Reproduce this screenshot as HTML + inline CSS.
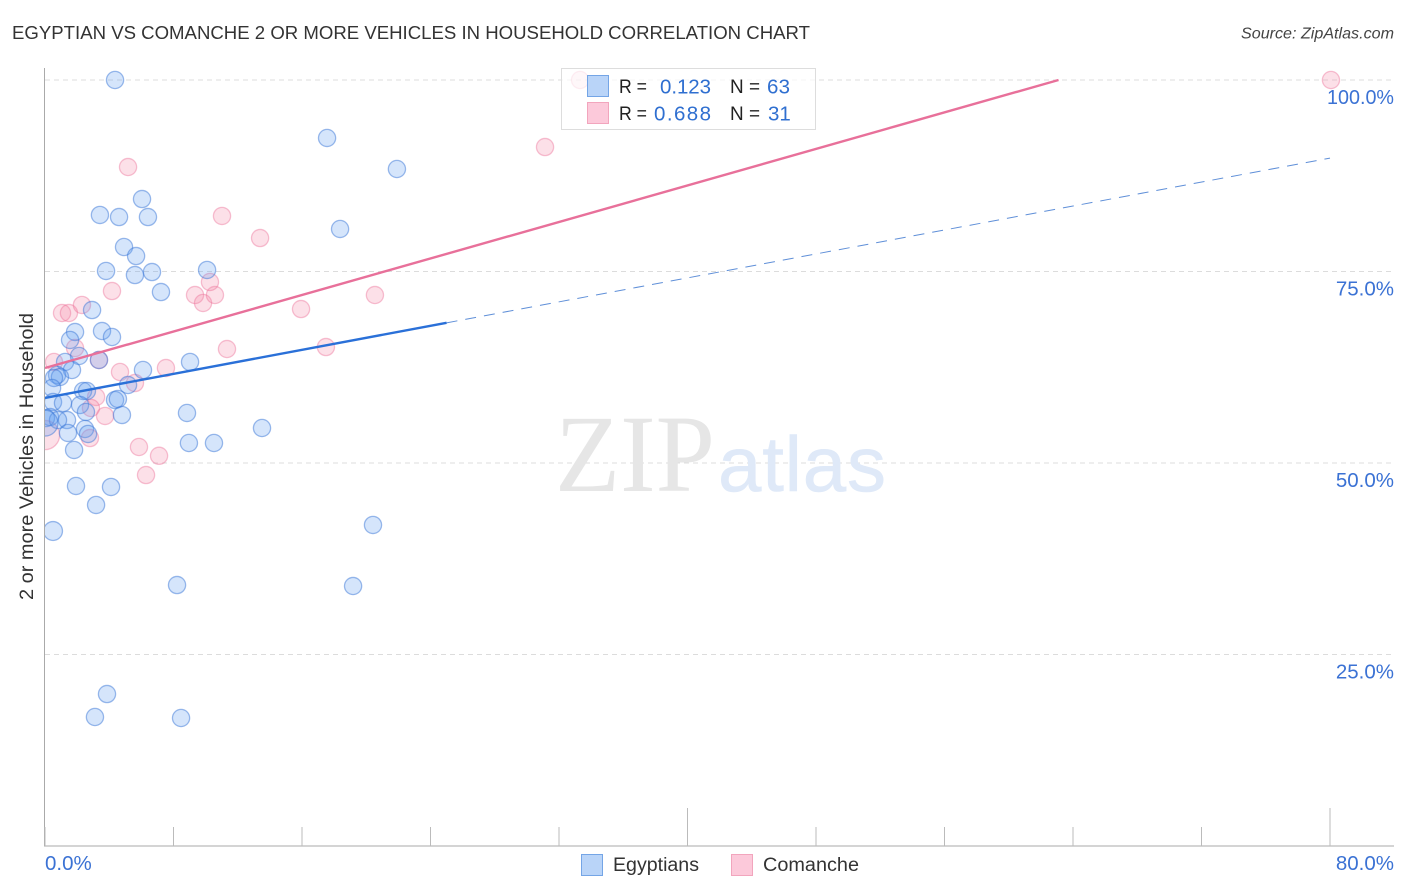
<!DOCTYPE html>
<html lang="en">
<head>
<meta charset="utf-8">
<title>Egyptian vs Comanche 2 or more Vehicles in Household Correlation Chart</title>
<style>
html,body{margin:0;padding:0;background:#fff;width:1406px;height:892px;overflow:hidden}
svg{display:block;font-family:"Liberation Sans",sans-serif}
</style>
</head>
<body>
<svg id="chart" width="1406" height="892" viewBox="0 0 1406 892" xmlns="http://www.w3.org/2000/svg">
  <defs>
    <clipPath id="plot-clip"><rect x="45" y="60" width="1349" height="786"/></clipPath>
  </defs>
  <rect x="0" y="0" width="1406" height="892" fill="#fff"/>
  <text x="12" y="39" font-size="18" fill="#333" textLength="798" lengthAdjust="spacingAndGlyphs">EGYPTIAN VS COMANCHE 2 OR MORE VEHICLES IN HOUSEHOLD CORRELATION CHART</text>
  <text x="1394" y="38.5" font-size="16" font-style="italic" fill="#444" text-anchor="end" textLength="153" lengthAdjust="spacingAndGlyphs">Source: ZipAtlas.com</text>
  <g id="grid"></g>
  <g>
    <text x="555" y="491" font-family="'Liberation Serif',serif" font-size="110" fill="#e6e6e6" textLength="160" lengthAdjust="spacingAndGlyphs">ZIP</text>
    <text x="718" y="491" font-size="78" fill="#dfe9f8" stroke="#dfe9f8" stroke-width="0.6" textLength="168" lengthAdjust="spacing">atlas</text>
  </g>
  <g id="points" clip-path="url(#plot-clip)"></g>
  <rect x="0" y="60" width="44" height="786" fill="#fff"/>
  <text transform="translate(33,456.5) rotate(-90)" font-size="19" fill="#333" text-anchor="middle" textLength="287" lengthAdjust="spacingAndGlyphs">2 or more Vehicles in Household</text>
  <g id="trends"></g>
  <g id="axes">
    <line x1="44.5" y1="68" x2="44.5" y2="846" stroke="#aaa" stroke-width="1"/>
    <line x1="44" y1="846" x2="1394" y2="846" stroke="#aaa" stroke-width="1"/>
  </g>
  <g id="labels"></g>
  <g>
    <rect x="561.5" y="68.5" width="254" height="61" fill="#fff" fill-opacity="0.72" stroke="#ddd" stroke-width="1"/>
    <rect x="587.5" y="75.5" width="21" height="21" fill="#b9d4f8" stroke="#74a5e6" stroke-width="1"/>
    <rect x="587.5" y="102.5" width="21" height="21" fill="#fcc9da" stroke="#f2a5bd" stroke-width="1"/>
    <text x="619" y="93" font-size="19.5" fill="#222" textLength="28" lengthAdjust="spacingAndGlyphs">R =</text>
    <text x="660" y="93.5" font-size="20.5" fill="#2f6fd0" textLength="51" lengthAdjust="spacing">0.123</text>
    <text x="730" y="93" font-size="19.5" fill="#222" textLength="30" lengthAdjust="spacingAndGlyphs">N =</text>
    <text x="767" y="93.5" font-size="20.5" fill="#2f6fd0" textLength="23" lengthAdjust="spacing">63</text>
    <text x="619" y="120" font-size="19.5" fill="#222" textLength="28" lengthAdjust="spacingAndGlyphs">R =</text>
    <text x="654" y="120.5" font-size="20.5" fill="#2f6fd0" textLength="57" lengthAdjust="spacing">0.688</text>
    <text x="730" y="120" font-size="19.5" fill="#222" textLength="30" lengthAdjust="spacingAndGlyphs">N =</text>
    <text x="768" y="120.5" font-size="20.5" fill="#2f6fd0">31</text>
  </g>
  <g>
    <rect x="581.5" y="854.5" width="21" height="21" fill="#b9d4f8" stroke="#74a5e6" stroke-width="1"/>
    <text x="613" y="871" font-size="19" fill="#333" textLength="86" lengthAdjust="spacingAndGlyphs">Egyptians</text>
    <rect x="731.5" y="854.5" width="21" height="21" fill="#fcc9da" stroke="#f2a5bd" stroke-width="1"/>
    <text x="763" y="871" font-size="19" fill="#333" textLength="96" lengthAdjust="spacingAndGlyphs">Comanche</text>
  </g>
</svg>
<script>
const yTickValues = [100, 75, 50, 25];
const yTickLabels = ["100.0%", "75.0%", "50.0%", "25.0%"];
const xTickValues = [0, 8, 16, 24, 32, 40, 48, 56, 64, 72, 80];
const xMajorTicks = [40, 80];
const xEndValues = [0, 80];
const xEndLabels = ["0.0%", "80.0%"];

const egyptianX = [4.36,17.56,21.91,6.04,3.42,4.61,6.41,18.37,4.92,5.67,3.80,5.60,6.66,10.09,7.22,2.93,1.87,3.55,4.17,1.56,1.25,3.36,2.12,1.68,6.10,9.03,0.75,0.93,0.56,5.17,0.44,2.37,2.61,0.50,1.12,2.18,2.55,4.36,4.54,4.79,8.84,0.31,0.06,1.37,0.81,1.43,2.49,2.68,13.51,8.96,10.52,1.81,1.93,4.11,3.18,0.50,20.42,8.22,19.18,3.86,3.11,8.47,0.0];
const egyptianY = [100,92.43,88.38,84.46,82.38,82.11,82.11,80.55,78.20,77.02,75.07,74.54,74.93,75.20,72.32,69.97,67.10,67.23,66.45,66.06,63.19,63.45,63.97,62.14,62.14,63.19,61.49,61.23,61.10,60.18,59.79,59.40,59.40,57.96,57.83,57.57,56.66,58.22,58.36,56.27,56.53,56.00,55.87,55.61,55.61,53.92,54.44,53.79,54.57,52.61,52.61,51.70,47.00,46.87,44.52,41.12,41.91,34.07,33.94,19.84,16.84,16.71,55.20];
const egyptianWeight = [1,1,1,1,1,1,1,1,1,1,1,1,1,1,1,1,1,1,1,1,1,1,1,1,1,1,1,1,1,1,1,1,1,1,1,1,1,1,1,1,1,1,1,1,1,1,1,1,1,1,1,1,1,1,1,1.1,1,1,1,1,1,1,1.5];

const comancheX = [33.31,80.06,31.13,5.17,11.02,13.39,4.17,1.06,1.49,2.30,9.34,9.84,10.58,10.27,15.94,20.54,11.33,17.49,1.87,0.56,3.36,4.67,7.53,5.60,3.18,2.86,3.74,2.80,5.85,7.10,6.29,0.0];
const comancheY = [100,100,91.25,88.64,82.25,79.37,72.45,69.58,69.58,70.63,71.93,70.89,71.93,73.63,70.10,71.93,64.88,65.14,65.01,63.19,63.45,61.88,62.40,60.44,58.62,57.18,56.14,53.26,52.09,50.94,48.43,53.65];
const comancheWeight = [1,1,1,1,1,1,1,1,1,1,1,1,1,1,1,1,1,1,1,1,1,1,1,1,1,1,1,1,1,1,1,1.7];

const egyptianTrendX = [0, 25];
const egyptianTrendY = [58.5, 68.3];
const egyptianForecastX = [25, 80];
const egyptianForecastY = [68.3, 89.8];
const comancheTrendX = [0, 63.1];
const comancheTrendY = [62.4, 100];

const NS = "http://www.w3.org/2000/svg";
const xScale = function (v) { return 45 + v * (1285 / 80); };
const yScale = function (v) { return 846 - v * (766 / 100); };
const BASE_RADIUS = 8.6;

function make(tag, parentId, attrs, text) {
  const el = document.createElementNS(NS, tag);
  for (const k in attrs) { el.setAttribute(k, attrs[k]); }
  if (text !== undefined) { el.textContent = text; }
  document.getElementById(parentId).appendChild(el);
  return el;
}

yTickValues.forEach(function (v, i) {
  const line = make("line", "grid", { x1: 45, x2: 1394, y1: yScale(v), y2: yScale(v), stroke: "#dcdcdc", "stroke-width": 1, "stroke-dasharray": "5 4" });
  
  
  const label = make("text", "labels", { x: 1394, y: yScale(v) + 24, "font-size": 20.5, fill: "#3b72d4", "text-anchor": "end" }, yTickLabels[i]);
  if (yTickLabels[i].length > 5) { label.setAttribute('textLength', 67); label.setAttribute('lengthAdjust', 'spacingAndGlyphs'); }
  
  
});

xTickValues.forEach(function (v) {
  const top = xMajorTicks.indexOf(v) >= 0 ? 808 : 827;
  const tick = make("line", "axes", { x1: xScale(v), x2: xScale(v), y1: top, y2: 846, stroke: "#bbb", "stroke-width": 1 });
  
  
});

xEndValues.forEach(function (v, i) {
  const label = make("text", "labels", { x: i === 0 ? xScale(v) : 1394, y: 870, "font-size": 20.5, fill: "#3b72d4", "text-anchor": i === 0 ? "start" : "end" }, xEndLabels[i]);
  
  
});

comancheX.forEach(function (v, i) {
  const c = make("circle", "points", { cx: xScale(v), cy: yScale(comancheY[i]), r: BASE_RADIUS * comancheWeight[i], fill: "rgba(245,130,165,0.25)", stroke: "rgba(235,110,150,0.42)", "stroke-width": 1.3 });
  
  
});

egyptianX.forEach(function (v, i) {
  const c = make("circle", "points", { cx: xScale(v), cy: yScale(egyptianY[i]), r: BASE_RADIUS * egyptianWeight[i], fill: "rgba(100,160,240,0.27)", stroke: "rgba(60,120,215,0.5)", "stroke-width": 1.3 });
  
  
});

const forecast = make("line", "trends", { x1: xScale(egyptianForecastX[0]), y1: yScale(egyptianForecastY[0]), x2: xScale(egyptianForecastX[1]), y2: yScale(egyptianForecastY[1]), stroke: "#5f8fd8", "stroke-width": 1, "stroke-dasharray": "11 8" });



const comancheLine = make("line", "trends", { x1: xScale(comancheTrendX[0]), y1: yScale(comancheTrendY[0]), x2: xScale(comancheTrendX[1]), y2: yScale(comancheTrendY[1]), stroke: "#e8709a", "stroke-width": 2.4 });



const egyptianLine = make("line", "trends", { x1: xScale(egyptianTrendX[0]), y1: yScale(egyptianTrendY[0]), x2: xScale(egyptianTrendX[1]), y2: yScale(egyptianTrendY[1]), stroke: "#2a70d8", "stroke-width": 2.4 });


</script>
</body>
</html>
